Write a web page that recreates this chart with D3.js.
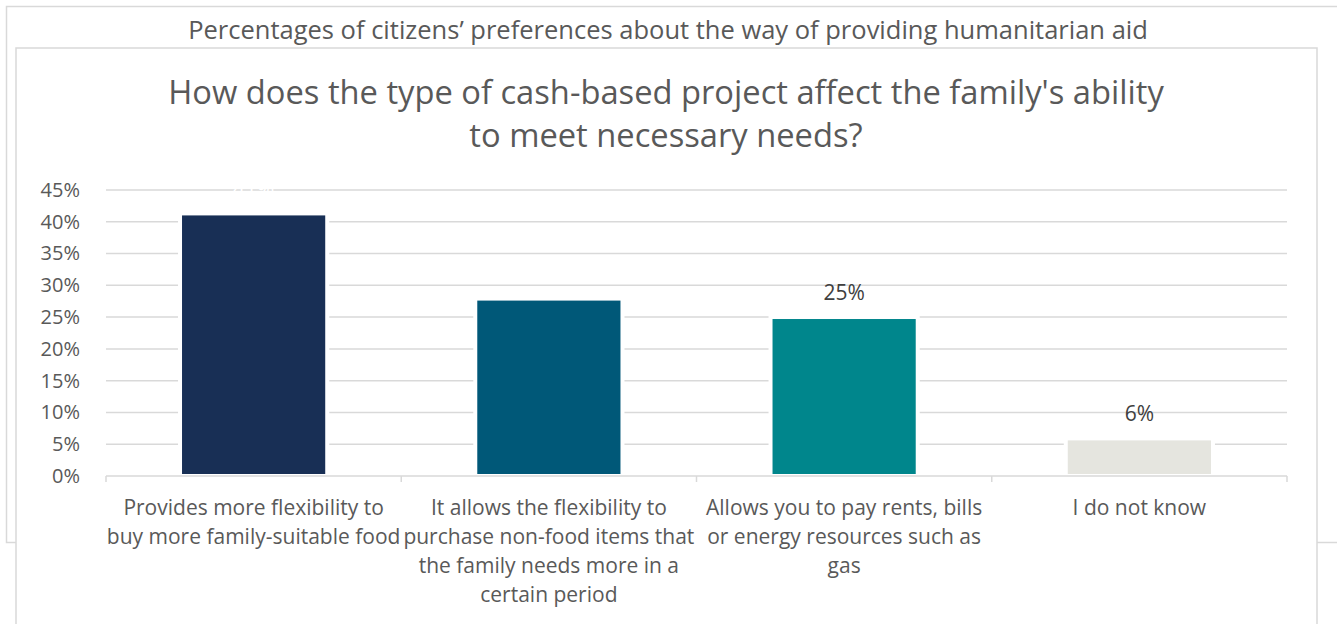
<!DOCTYPE html>
<html>
<head>
<meta charset="utf-8">
<script src="https://cdn.jsdelivr.net/npm/d3@7"></script>
<style>
  html, body { margin: 0; padding: 0; background: #fff; overflow: hidden; }
  svg { display: block; font-family: "Open Sans", "Noto Sans", sans-serif; }
</style>
</head>
<body>
<svg id="chart" width="1337" height="624"></svg>
<script>
// Survey answers and their shares
const categories = [
  ["Provides more flexibility to", "buy more family-suitable food"],
  ["It allows the flexibility to", "purchase non-food items that", "the family needs more in a", "certain period"],
  ["Allows you to pay rents, bills", "or energy resources such as", "gas"],
  ["I do not know"]
];
const values = [0.41, 0.276, 0.247, 0.056];
const barColors = ["#182F55", "#005878", "#00868C", "#E5E5DF"];
const labelColors = ["#FFFFFF", "#FFFFFF", "#404040", "#404040"];
const yTicks = [0, 0.05, 0.10, 0.15, 0.20, 0.25, 0.30, 0.35, 0.40, 0.45];

const subtitle = "Percentages of citizens\u2019 preferences about the way of providing humanitarian aid";
const titleLines = [
  "How does the type of cash-based project affect the family's ability",
  "to meet necessary needs?"
];

const svg = d3.select("#chart");
const gridColor = "#D9D9D9";
const textColor = "#595959";

// Outer frame (the caption box) and the chart frame drawn over it
svg.append("rect")
  .attr("x", 6.5).attr("y", 6.5).attr("width", 1360).attr("height", 536)
  .attr("fill", "#fff").attr("stroke", gridColor).attr("stroke-width", 1.5);

svg.append("text")
  .attr("x", 668).attr("y", 39)
  .attr("text-anchor", "middle")
  .attr("fill", textColor)
  .attr("font-size", 25.5)
  .text(subtitle);

svg.append("rect")
  .attr("x", 16).attr("y", 48).attr("width", 1301).attr("height", 620)
  .attr("fill", "#fff").attr("stroke", gridColor).attr("stroke-width", 1.5);

// Chart title
svg.append("text")
  .attr("text-anchor", "middle")
  .attr("fill", textColor)
  .attr("font-size", 32.7)
  .selectAll("tspan")
  .data(titleLines)
  .join("tspan")
  .attr("x", 666)
  .attr("y", (d, i) => 104 + i * 43)
  .text(d => d);

// Scales
const x = d3.scaleBand()
  .domain(d3.range(categories.length))
  .range([106, 1287])
  .paddingInner(0.515)
  .paddingOuter(0.2575);

const y = d3.scaleLinear()
  .domain([0, 0.45])
  .range([476, 190]);

// Horizontal gridlines
svg.append("g")
  .selectAll("line")
  .data(yTicks.slice(1))
  .join("line")
  .attr("x1", 106).attr("x2", 1287)
  .attr("y1", d => y(d)).attr("y2", d => y(d))
  .attr("stroke", gridColor).attr("stroke-width", 1.5);

// Y axis labels
const yAxis = d3.axisLeft(y)
  .tickValues(yTicks)
  .tickFormat(d3.format(".0%"))
  .tickSize(0)
  .tickPadding(26);
const gy = svg.append("g").attr("transform", "translate(106,0)").call(yAxis);
gy.select(".domain").remove();
gy.selectAll("text")
  .attr("fill", textColor)
  .attr("font-size", 20)
  .attr("font-family", "\"Open Sans\", sans-serif");

// Bars with a white halo that breaks the gridlines around them
const bars = svg.append("g");
bars.selectAll("rect.halo")
  .data(values)
  .join("rect")
  .attr("class", "halo")
  .attr("x", (d, i) => x(i) - 4)
  .attr("y", d => y(d) - 4)
  .attr("width", x.bandwidth() + 8)
  .attr("height", d => y(0) - y(d) + 4)
  .attr("fill", "#fff");

bars.selectAll("rect.bar")
  .data(values)
  .join("rect")
  .attr("class", "bar")
  .attr("x", (d, i) => x(i))
  .attr("y", d => y(d))
  .attr("width", x.bandwidth())
  .attr("height", d => y(0) - y(d) - 2)
  .attr("fill", (d, i) => barColors[i]);

// X axis baseline and category separators
const xBounds = d3.range(categories.length + 1).map(i =>
  i < categories.length ? x(i) - x.step() * x.paddingOuter() : 1287);
svg.append("line")
  .attr("x1", 106).attr("x2", 1287)
  .attr("y1", 476).attr("y2", 476)
  .attr("stroke", gridColor).attr("stroke-width", 1.5);
svg.append("g")
  .selectAll("line")
  .data(xBounds)
  .join("line")
  .attr("x1", d => d).attr("x2", d => d)
  .attr("y1", 476).attr("y2", 482)
  .attr("stroke", gridColor).attr("stroke-width", 1.5);

// Data labels
const fmt = d3.format(".0%");
svg.append("g")
  .selectAll("text")
  .data(values)
  .join("text")
  .attr("x", (d, i) => x(i) + x.bandwidth() / 2)
  .attr("y", d => y(d) - 19)
  .attr("text-anchor", "middle")
  .attr("font-size", 21)
  .attr("fill", (d, i) => labelColors[i])
  .text(d => fmt(d));

// Category labels
const cat = svg.append("g")
  .selectAll("text")
  .data(categories)
  .join("text")
  .attr("text-anchor", "middle")
  .attr("fill", textColor)
  .attr("font-size", 21);
cat.selectAll("tspan")
  .data((d, i) => d.map(line => ({ line, i })))
  .join("tspan")
  .attr("x", d => x(d.i) + x.bandwidth() / 2)
  .attr("y", (d, j) => 515 + j * 29)
  .text(d => d.line);
</script>
</body>
</html>
